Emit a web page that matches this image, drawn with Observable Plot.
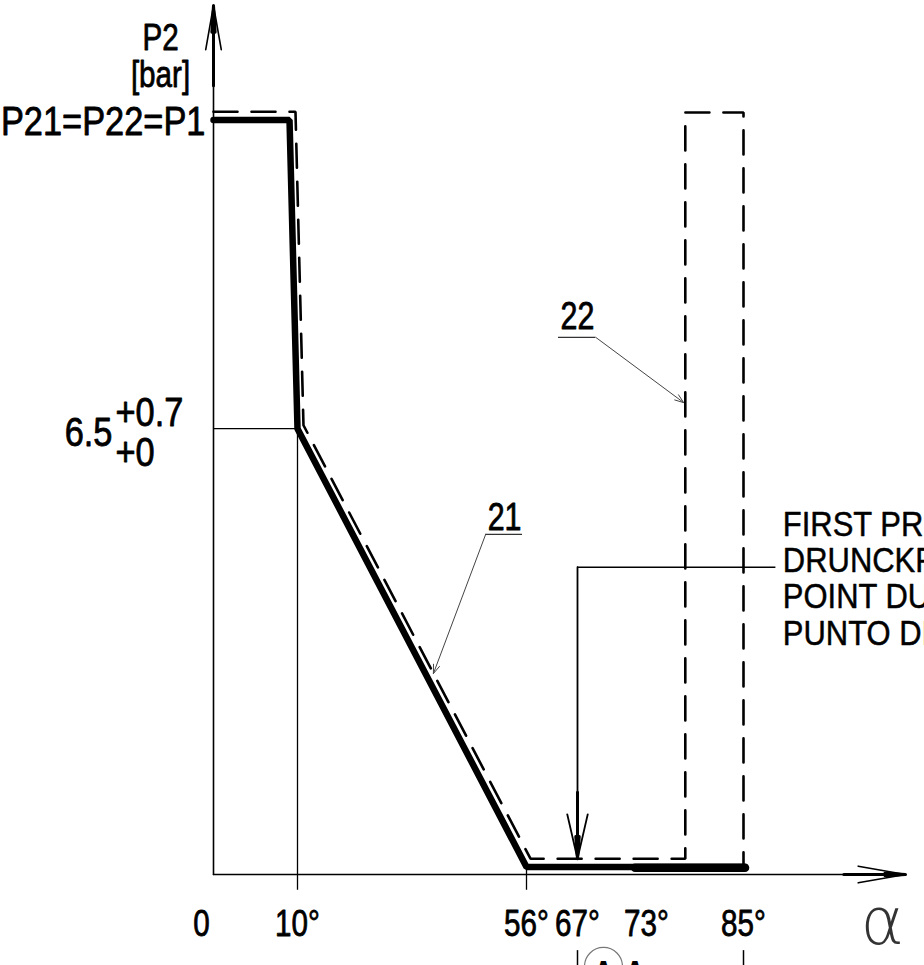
<!DOCTYPE html>
<html><head><meta charset="utf-8">
<script src="https://cdn.jsdelivr.net/npm/d3@7"></script>
<script src="https://cdn.jsdelivr.net/npm/@observablehq/plot@0.6"></script>
<style>
html,body{margin:0;padding:0;background:#fff;overflow:hidden;}
#chart svg{display:block;overflow:hidden;}
</style></head><body><div id="chart"></div>
<script>
const FONT = '"Liberation Sans","Arial",sans-serif';
const NARROW = 0.8;      // horizontal compression imitating the narrow CAD lettering
const NARROW_WIDE = 0.86; // slightly wider lettering (y labels, note text)

// x axis: cam angle α in degrees (schematic, piecewise scale)
const angleTicks = [0, 10, 56, 67, 73, 85];
const angleLabels = ["0", "10°", "56°", "67°", "73°", "85°"];

// curve 21 (solid) : P21 vs α
const curve21Angle = [0, 9.05, 10, 56, 85.2];
const curve21P2 = [11.0, 11.0, 6.5, 0.11, 0.11];
// heavier overlap on the bottom run
const overlapAngle = [72, 85.2];
const overlapP2 = [0.1, 0.1];

// curve 22 (dashed) : P22 vs α
const curve22Angle = [0, 9.76, 11.2, 56.86, 77.8, 77.8, 85, 85];
const curve22P2 = [11.12, 11.12, 6.55, 0.23, 0.23, 11.11, 11.11, 0.11];

// y reference level
const refLevel = 6.5;

// callouts
const calloutLabels = ["21", "22"];
const calloutAngle = [51.6, 67.0];
const calloutP2 = [5.2, 8.13];
const underlineFrom = [47.8, 62.9];
const underlineTo = [55.2, 68.6];
const underlineP2 = [4.96, 7.83];
const leaderFromAngle = [47.8, 68.6];
const leaderToAngle = [37.3, 77.6];
const leaderFromP2 = [4.96, 7.83];
const leaderToP2 = [2.93, 6.88];

// first pressure point
const fppAngle = 67;
const fppTopP2 = 4.48;
const fppTipP2 = 0.23;
const fppLineEnd = 89.2;
const fppText = ["FIRST PRESSURE POINT", "DRUNCKPUNKT", "POINT DUR", "PUNTO DI PRESSIONE"];
const fppTextP2 = [5.1, 4.58, 4.05, 3.52];
const fppTextAngle = 90.1;

const table = (xs, ys) => xs.map((x, i) => ({x, y: ys[i]}));
const T = {fill: "black", stroke: "black", strokeWidth: 0.8};

const chart = Plot.plot({
  width: 924, height: 965,
  marginTop: 5, marginBottom: 91, marginLeft: 213, marginRight: 19,
  style: {fontFamily: FONT, background: "white", color: "black", overflow: "hidden"},
  x: {type: "linear", domain: [0, 10, 56, 67, 73, 85, 106], range: [213, 297, 526, 577, 646, 743, 905], axis: null},
  y: {domain: [0, 12.67], axis: null},
  marks: [
    // thin construction lines
    Plot.ruleY([refLevel], {x1: 0, x2: 10, stroke: "black", strokeWidth: 1.3}),
    Plot.ruleX([10], {y1: -0.23, y2: refLevel, stroke: "black", strokeWidth: 1.3}),
    Plot.ruleX([56], {y1: -0.23, y2: 0.11, stroke: "black", strokeWidth: 1.3}),
    // axes with arrows
    Plot.arrow([0], {x1: 0, y1: 0, x2: 0, y2: 12.67, stroke: "black", strokeWidth: 1.6, headLength: 42, headAngle: 20}),
    Plot.arrow([0], {x1: 0, y1: 11.5, x2: 0, y2: 12.67, stroke: "black", strokeWidth: 3, headLength: 34, headAngle: 7}),
    Plot.arrow([0], {x1: 0, y1: 0, x2: 106, y2: 0, stroke: "black", strokeWidth: 1.6, headLength: 45, headAngle: 20}),
    Plot.arrow([0], {x1: 98, y1: 0, x2: 106, y2: 0, stroke: "black", strokeWidth: 3, headLength: 36, headAngle: 7}),
    // curves
    Plot.line(table(curve22Angle, curve22P2), {x: "x", y: "y", stroke: "black", strokeWidth: 2.6, strokeDasharray: "24,14", strokeLinejoin: "miter"}),
    Plot.line(table(curve21Angle, curve21P2), {x: "x", y: "y", stroke: "black", strokeWidth: 6.5, strokeLinejoin: "miter"}),
    Plot.line(table(overlapAngle, overlapP2), {x: "x", y: "y", stroke: "black", strokeWidth: 8.5}),
    // callouts 21 / 22
    Plot.ruleY(underlineP2, {x1: underlineFrom, x2: underlineTo, y: underlineP2, stroke: "#333", strokeWidth: 1.2}),
    Plot.arrow(calloutLabels, {x1: leaderFromAngle, y1: leaderFromP2, x2: leaderToAngle, y2: leaderToP2, stroke: "#444", strokeWidth: 1, headLength: 14, headAngle: 40}),
    Plot.text(calloutLabels, {x: calloutAngle, y: calloutP2, text: d => d, fontSize: 38, ...T}),
    // first pressure point
    Plot.ruleY([fppTopP2], {x1: fppAngle, x2: fppLineEnd, stroke: "black", strokeWidth: 1.3}),
    Plot.arrow([0], {x1: fppAngle, y1: fppTopP2, x2: fppAngle, y2: fppTipP2, stroke: "black", strokeWidth: 1.8, headLength: 38, headAngle: 26}),
    Plot.arrow([0], {x1: fppAngle, y1: 1.2, x2: fppAngle, y2: fppTipP2, stroke: "black", strokeWidth: 3, headLength: 30, headAngle: 9}),
    Plot.text(fppText, {x: fppTextAngle, y: fppTextP2, text: d => d, textAnchor: "start", fontSize: 36, ...T, strokeWidth: 0.5}),
    // x tick labels
    Plot.text(angleLabels.slice(1), {x: angleTicks.slice(1), y: -0.73, text: d => d, fontSize: 37, ...T}),
    Plot.text([angleLabels[0]], {x: angleTicks[0], y: -0.73, text: d => d, dx: -12, fontSize: 37, ...T}),
    Plot.text(["α"], {x: 103, y: -0.7, text: d => d, fontSize: 66, fontFamily: "DejaVu Sans", fontWeight: 200, fill: "#333"}),
    // y labels
    Plot.text(["P2"], {x: 0, y: 12.2, text: d => d, dx: -53, fontSize: 37, ...T}),
    Plot.text(["[bar]"], {x: 0, y: 11.65, text: d => d, dx: -53, fontSize: 37, ...T}),
    Plot.text(["P21=P22=P1"], {x: 0, y: 10.97, text: d => d, dx: -8, textAnchor: "end", fontSize: 40, ...T}),
    Plot.text(["6.5"], {x: 0, y: 6.43, text: d => d, dx: -101, textAnchor: "end", fontSize: 40, ...T}),
    Plot.text(["+0.7"], {x: 0, y: 6.72, text: d => d, dx: -98, textAnchor: "start", fontSize: 40, ...T}),
    Plot.text(["+0"], {x: 0, y: 6.14, text: d => d, dx: -98, textAnchor: "start", fontSize: 40, ...T}),
    // clipped marks at the bottom edge
    Plot.ruleX([67, 85], {y1: -1.11, y2: -1.45, stroke: "black", strokeWidth: 1.5}),
    Plot.dot([0], {x: 69.26, y: -1.34, r: 19, stroke: "#777", strokeWidth: 1.2, fill: "none"}),
    Plot.text(["A", "A"], {x: [69.26, 72.0], y: -1.45, text: d => d, fontSize: 36, fontWeight: "bold", fill: "black"})
  ]
});
// narrow the lettering horizontally about each text's anchor point
const wider = new Set(["P21=P22=P1", "6.5", "+0.7", "+0", ...fppText]);
d3.select(chart).selectAll("text").each(function() {
  const s = this.textContent;
  if (s === "α") return;
  const k = wider.has(s) ? NARROW_WIDE : NARROW;
  const t = this.getAttribute("transform") || "";
  this.setAttribute("transform", t + ` scale(${k},1)`);
});
document.getElementById("chart").appendChild(chart);
</script></body></html>
